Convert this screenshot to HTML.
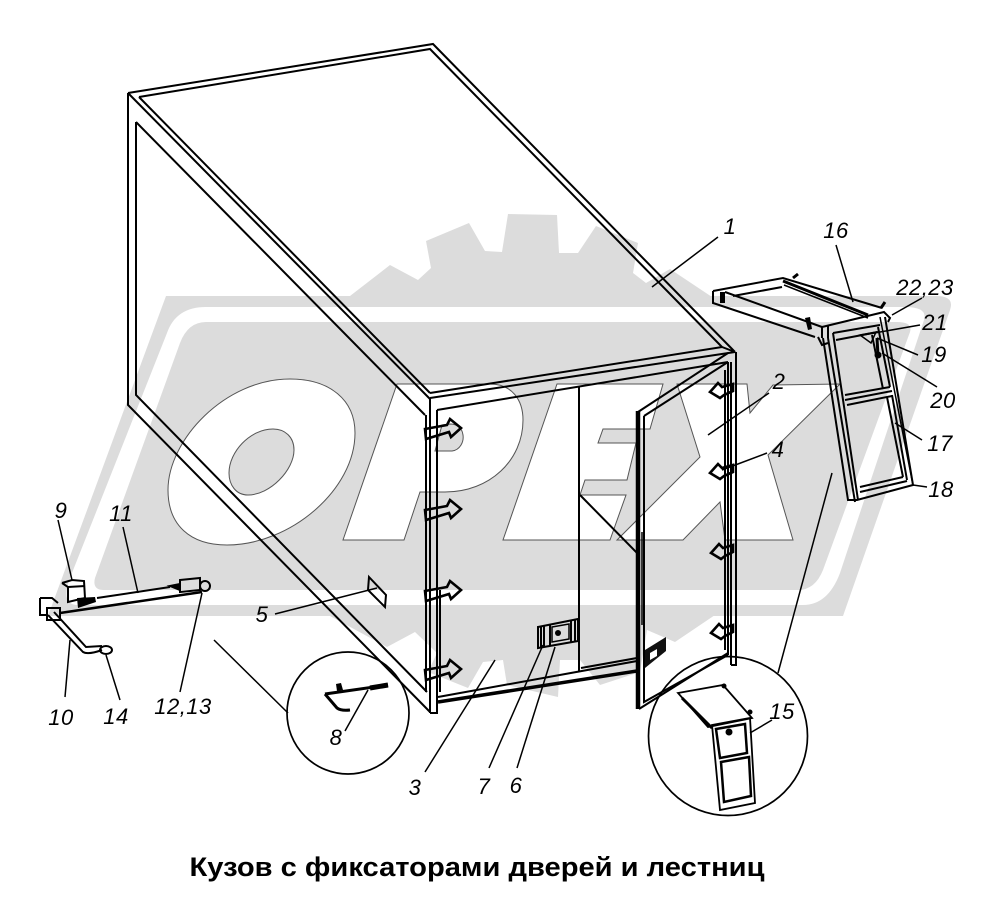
<!DOCTYPE html>
<html lang="ru">
<head>
<meta charset="utf-8">
<title>Кузов с фиксаторами дверей и лестниц</title>
<style>
html,body{margin:0;padding:0;background:#fff;}
svg{display:block;}
.n{font-family:"Liberation Sans",sans-serif;font-style:italic;font-size:22px;fill:#000;text-anchor:middle;letter-spacing:.5px;}
.t{font-family:"Liberation Sans",sans-serif;font-weight:bold;font-size:27px;fill:#000;text-anchor:middle;}
</style>
</head>
<body>
<svg width="1002" height="912" viewBox="0 0 1002 912" xmlns="http://www.w3.org/2000/svg">
<rect width="1002" height="912" fill="#fff"/>

<!-- watermark -->
<g fill="#dcdcdc" stroke="none">
<path d="M166 296L936 296Q955 296 950 310L843 616L48 616Z"/>
<path d="M350 296L390 265L418 280L431 268L426 241L469 223L485 251L502 252L508 214L557 215L559 253L578 253L596 226L638 243L633 273L646 283L670 269L712 297Z"/>
<path d="M330 616L387 647L415 632L437 653L428 672L468 688L483 662L503 660L507 685L558 697L560 660L580 660L600 685L640 672L647 630L675 642L715 615Z"/>
</g>
<path d="M206 307L905 307Q928 307 924 320L840 573Q828 605 803 605L78 605Q60 605 70 578L167 333Q176 307 206 307Z" fill="#fff"/>
<path d="M206 322L897 322Q913 322 910 332L823 570Q815 590 798 590L104 590Q92 590 95 578L180 343Q188 322 206 322Z" fill="#dcdcdc"/>

<!-- OPEX letters -->
<g fill="#fff" stroke="#555" stroke-width="1">
<path fill-rule="evenodd" d="M168 490C168 440 225 379 290 379C330 379 355 400 355 433C355 490 290 545 227 545C190 545 168 525 168 490ZM229 473C229 485 236 495 248 495C270 495 294 470 294 450C294 437 285 429 273 429C250 429 229 452 229 473Z"/>
<path fill-rule="evenodd" d="M397 384L490 384C512 384 523 400 523 420C523 460 490 492 445 492L420 492L404 540L343 540ZM442 425L435 451L452 451C460 450 464 442 463 435C462 427 456 424 450 424Z"/>
<path d="M557 384L663 384L650 429L603 429L598 443L636 443L627 480L585 480L580 495L626 495L610 540L503 540Z"/>
<path d="M677 384L747 384L750 413L773 385L840 384L768 455L793 540L725 540L720 502L683 540L617 540L700 457Z"/>
</g>

<g fill="none" stroke="#000" stroke-width="2" stroke-linejoin="miter">
<!-- roof -->
<path d="M128 93L433 44L735 352"/>
<path d="M139 97L430 49L722 347"/>
<!-- upper slopes -->
<path d="M128 93L430 399"/>
<path d="M139 97L430 393"/>
<!-- side panel -->
<path d="M128 93V405L430 712"/>
<path d="M136 122V395L427 692"/>
<path d="M136 122L425 415"/>
<!-- left post -->
<path d="M426 415V692"/>
<path d="M430 398V713"/>
<path d="M437 410V697"/>
<path d="M440 590V692"/>
<path d="M430 713H437V697"/>
<!-- front top frame -->
<path d="M430 393L722 347L735 352"/>
<path d="M430 398L735 352"/>
<path d="M437 410L728 362"/>
<!-- right post -->
<path d="M736 352V665H731"/>
<path d="M731 362V665"/>
<path d="M728 362V655"/>
<path d="M725 370V650"/>
<!-- left door edge -->
<path d="M579 386V672"/>
<!-- diagonal -->
<path d="M580 495L637 553"/>
<!-- bottom frame -->
<path d="M438 697L637 661"/>
<path d="M438 702L637 671" stroke-width="3.5"/>
<path d="M581 668L637 658"/>
<!-- open door -->
<path d="M638 412L728 353"/>
<path d="M644 416L728 362"/>
<path d="M644 416V702L728 655"/>
<path d="M639 709L728 653"/>
<path d="M638 411V709" stroke-width="4.5"/>
<path d="M642 532V625" stroke-width="1.5"/>
<!-- plate 5 -->
<path d="M369 577L386 595L385 607L368 590Z"/>
</g>
<g fill="none" stroke="#000" stroke-width="2.6" stroke-linejoin="miter">
<!-- latches left -->
<path d="M425 429L447 425L450 419L461 428L451 437L449 432L426 439Z"/>
<path d="M425 510L447 506L450 500L461 509L451 518L449 513L426 520Z"/>
<path d="M425 591L447 587L450 581L461 590L451 599L449 594L426 601Z"/>
<path d="M425 670L447 666L450 660L461 669L451 678L449 673L426 680Z"/>
<!-- latches right -->
<path d="M710 392L718 383L722 387L733 384V391L724 395L720 398Z"/>
<path d="M710 473L718 464L722 468L733 465V472L724 476L720 479Z"/>
<path d="M711 553L719 544L723 548L733 545V552L725 556L721 559Z"/>
<path d="M711 633L719 624L723 628L733 625V632L725 636L721 639Z"/>
</g>
<g fill="none" stroke="#000" stroke-width="2">
<!-- lock -->
<path d="M538 627L578 619V641L538 648Z"/>
<path d="M541 627V647M544 626V647M550 625V646M571 621V642M575 620V641"/>
<path d="M552 627L569 624V639L552 642Z" stroke-width="1.5"/>
</g>
<circle cx="558" cy="633" r="3" fill="#000"/>
<!-- door lock -->
<path d="M645 650L666 637V651L645 668Z" fill="#111"/>
<path d="M650 653L657 649V656L650 660Z" fill="#fff"/>

<!-- big ladder & platform -->
<g fill="none" stroke="#000" stroke-width="2">
<path d="M713 291L783 278L882 308"/>
<path d="M713 291V303L815 337"/>
<path d="M725 292L822 327"/>
<path d="M733 296L782 287"/>
<path d="M783 281L868 315" stroke-width="3"/>
<path d="M784 285L868 318" stroke-width="1.5"/>
<path d="M793 278L798 274M881 308L885 302" stroke-width="3"/>
<path d="M822 327L884 312L890 318L888 322"/>
<path d="M822 327V338M828 326V338"/>
<path d="M823 338L848 500H857L913 485L885 317"/>
<path d="M828 338L855 502"/>
<path d="M833 333L858 500"/>
<path d="M833 333L880 325M836 340L878 332"/>
<path d="M878 327L890 387M872 335L883 389"/>
<path d="M845 395L890 387M845 400L892 391M847 405L892 396"/>
<path d="M887 397L903 477M892 395L907 480"/>
<path d="M860 487L903 477M860 492L907 481"/>
<path d="M880 317L913 485" stroke-width="1.5"/>
<path d="M860 335L876 332L871 343Z" stroke-width="1.5"/>
<path d="M877 338L878 356" stroke-width="3"/>
<path d="M818 337L822 345L828 343"/>
</g>
<rect x="720" y="292" width="5" height="11" fill="#000"/>
<path d="M805 318L808 330L812 329L810 317Z" fill="#000"/>
<circle cx="878" cy="355" r="3.5" fill="#000"/>

<!-- left assembly -->
<g fill="none" stroke="#000" stroke-width="2">
<path d="M97 598L170 587"/>
<path d="M60 613L202 592" stroke-width="2.5"/>
<path d="M170 586L180 584L180 590Z" fill="#000"/>
<path d="M180 580L200 578V590L180 592Z"/>
<circle cx="205" cy="586" r="5"/>
<path d="M62 583L72 580L84 581L85 598L68 602V587L62 583"/>
<path d="M68 587L85 586"/>
<path d="M40 598H52L58 603M40 598V615H48"/>
<path d="M47 608H60V620H47Z"/>
<path d="M48 615L83 652Q88 655 102 650"/>
<path d="M54 612L86 647L102 646"/>
<ellipse cx="106" cy="650" rx="6" ry="4"/>
</g>
<path d="M77 598L95 597L96 602L78 608Z" fill="#000"/>
<!-- circle 8 -->
<circle cx="348" cy="713" r="61" fill="none" stroke="#000" stroke-width="1.7"/>
<path d="M325 694L388 685" stroke="#000" stroke-width="3" fill="none"/>
<path d="M370 688L388 685" stroke="#000" stroke-width="5" fill="none"/>
<path d="M325 694L337 708Q341 711 350 710" stroke="#000" stroke-width="3" fill="none"/>
<path d="M336 684L341 683L343 690L337 691Z" fill="#000"/>
<!-- circle 15 -->
<circle cx="728" cy="736" r="79.5" fill="none" stroke="#000" stroke-width="1.7"/>
<g fill="none" stroke="#000" stroke-width="1.8">
<path d="M678 693L723 685L752 718L708 727Z"/>
<path d="M682 698L712 728" stroke-width="3"/>
<path d="M712 725L750 718L755 803L720 810Z"/>
<path d="M716 729L745 724L747 753L720 758Z" stroke-width="2.5"/>
<path d="M721 762L749 757L751 796L724 802Z" stroke-width="2.5"/>
</g>
<circle cx="729" cy="732" r="3.5" fill="#000"/>
<circle cx="724" cy="686" r="2.5" fill="#000"/>
<circle cx="750" cy="712" r="2.5" fill="#000"/>

<!-- leaders -->
<g fill="none" stroke="#000" stroke-width="1.5">
<path d="M718 237L652 287"/>
<path d="M769 393L708 435"/>
<path d="M767 453L722 470"/>
<path d="M495 660L425 772"/>
<path d="M543 645L489 768"/>
<path d="M555 647L517 768"/>
<path d="M275 614L377 588"/>
<path d="M214 640L288 713"/>
<path d="M368 690L345 731"/>
<path d="M832 473L778 673"/>
<path d="M772 720L750 733"/>
<path d="M836 245L853 302"/>
<path d="M922 298L892 315"/>
<path d="M920 325L863 335"/>
<path d="M918 355L877 338"/>
<path d="M937 387L882 353"/>
<path d="M922 440L895 423"/>
<path d="M927 487L913 485"/>
<path d="M58 520L72 580"/>
<path d="M123 527L138 593"/>
<path d="M70 640L65 697"/>
<path d="M106 655L120 700"/>
<path d="M202 593L180 692"/>
</g>

<!-- labels -->
<g>
<text class="n" x="730" y="234">1</text>
<text class="n" x="779" y="389">2</text>
<text class="n" x="778" y="457">4</text>
<text class="n" x="836" y="238">16</text>
<text class="n" x="925" y="295">22,23</text>
<text class="n" x="935" y="330">21</text>
<text class="n" x="934" y="362">19</text>
<text class="n" x="943" y="408">20</text>
<text class="n" x="940" y="451">17</text>
<text class="n" x="941" y="497">18</text>
<text class="n" x="782" y="719">15</text>
<text class="n" x="262" y="622">5</text>
<text class="n" x="61" y="518">9</text>
<text class="n" x="121" y="521">11</text>
<text class="n" x="61" y="725">10</text>
<text class="n" x="116" y="724">14</text>
<text class="n" x="183" y="714">12,13</text>
<text class="n" x="336" y="745">8</text>
<text class="n" x="415" y="795">3</text>
<text class="n" x="484" y="794">7</text>
<text class="n" x="516" y="793">6</text>
</g>
<text class="t" x="477" y="876" textLength="575" lengthAdjust="spacingAndGlyphs">Кузов с фиксаторами дверей и лестниц</text>
</svg>
</body>
</html>
